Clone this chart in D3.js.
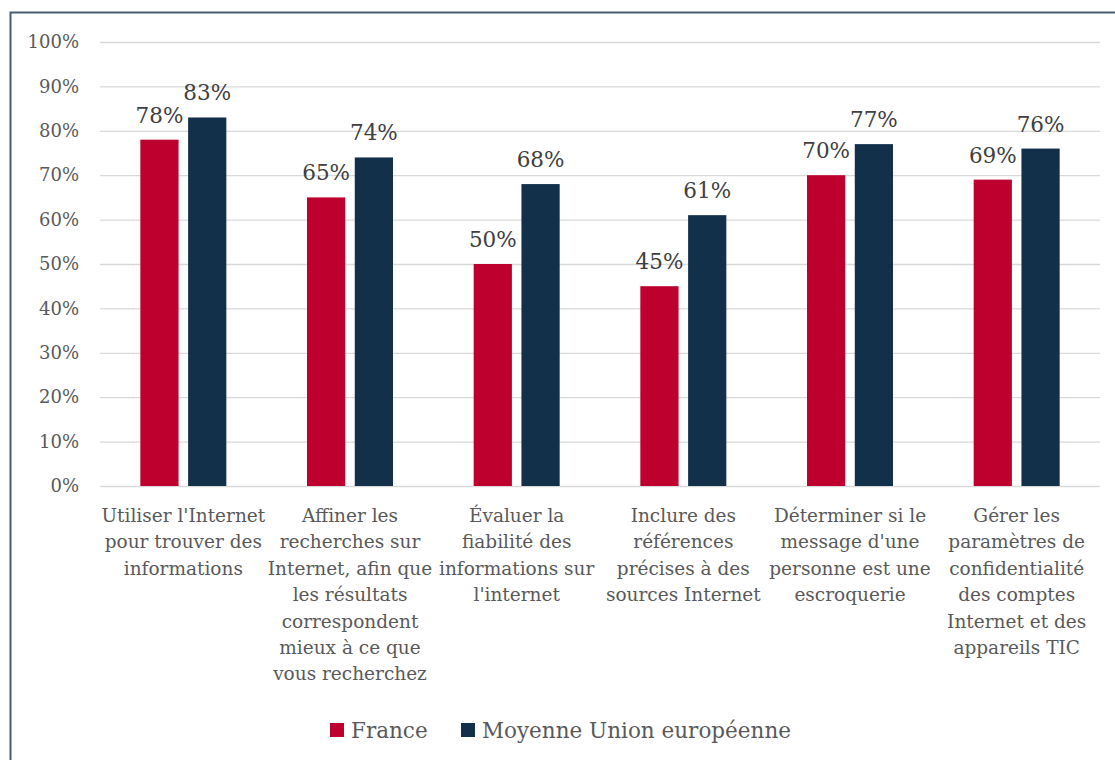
<!DOCTYPE html>
<html>
<head>
<meta charset="utf-8">
<script src="https://cdn.jsdelivr.net/npm/d3@7"></script>
<style>
  html, body { margin: 0; padding: 0; background: #fff; }
  svg { display: block; }
</style>
</head>
<body>
<svg id="chart" width="1115" height="760"></svg>
<script>
// Compétences numériques : France vs moyenne UE
const categories = [
  ["Utiliser l'Internet", "pour trouver des", "informations"],
  ["Affiner les", "recherches sur", "Internet, afin que", "les résultats", "correspondent", "mieux à ce que", "vous recherchez"],
  ["Évaluer la", "fiabilité des", "informations sur", "l'internet"],
  ["Inclure des", "références", "précises à des", "sources Internet"],
  ["Déterminer si le", "message d'une", "personne est une", "escroquerie"],
  ["Gérer les", "paramètres de", "confidentialité", "des comptes", "Internet et des", "appareils TIC"]
];
const seriesNames = ["France", "Moyenne Union européenne"];
const franceValues = [78, 65, 50, 45, 70, 69];
const euValues = [83, 74, 68, 61, 77, 76];
const yTicks = [0, 10, 20, 30, 40, 50, 60, 70, 80, 90, 100];
const colors = ["#bd002d", "#13304b"];

const FONT = "'DejaVu Serif', serif";
const svg = d3.select("#chart");

// frame
svg.append("path")
  .attr("d", "M10.5,760 V12.5 H1115")
  .attr("fill", "none")
  .attr("stroke", "#44606f")
  .attr("stroke-width", 2);

const plot = { left: 100, right: 1100, top: 42, bottom: 486 };

const x = d3.scaleBand()
  .domain(d3.range(categories.length))
  .range([plot.left, plot.right]);

const xInner = d3.scaleBand()
  .domain([0, 1])
  .range([-43, 43])
  .paddingInner(0.2);

const y = d3.scaleLinear().domain([0, 100]).range([plot.bottom, plot.top]);

// gridlines + tick labels
const yAxis = d3.axisLeft(y)
  .tickValues(yTicks)
  .tickSize(-(plot.right - plot.left))
  .tickPadding(21)
  .tickFormat(d => d + "%");

const gy = svg.append("g")
  .attr("transform", `translate(${plot.left},0)`)
  .call(yAxis);
gy.select(".domain").remove();
gy.selectAll(".tick line").attr("stroke", "#d9d9d9").attr("stroke-width", 1.3);
gy.selectAll(".tick text")
  .attr("fill", "#595959")
  .style("font-family", FONT)
  .style("font-size", "18px");

// bars
const series = [franceValues, euValues];
const groups = svg.append("g").selectAll("g")
  .data(categories)
  .join("g")
  .attr("transform", (d, i) => `translate(${x(i) + x.bandwidth() / 2},0)`);

groups.each(function (cat, i) {
  const g = d3.select(this);
  series.forEach((vals, s) => {
    const v = vals[i];
    g.append("rect")
      .attr("x", xInner(s))
      .attr("width", xInner.bandwidth())
      .attr("y", y(v))
      .attr("height", y(0) - y(v))
      .attr("fill", colors[s]);
    g.append("text")
      .attr("x", xInner(s) + xInner.bandwidth() / 2)
      .attr("y", y(v) - 17)
      .attr("text-anchor", "middle")
      .attr("fill", "#404040")
      .style("font-family", FONT)
      .style("font-size", "21.5px")
      .text(v + "%");
  });
  const t = g.append("text")
    .attr("text-anchor", "middle")
    .attr("fill", "#595959")
    .style("font-family", FONT)
    .style("font-size", "18.5px");
  cat.forEach((line, k) => {
    t.append("tspan")
      .attr("x", 0)
      .attr("y", 522 + k * 26.4)
      .text(line);
  });
});

// legend
const legend = svg.append("g").attr("transform", "translate(330,723)");
const legendX = [0, 131];
seriesNames.forEach((name, s) => {
  const lg = legend.append("g").attr("transform", `translate(${legendX[s]},0)`);
  lg.append("rect").attr("width", 14).attr("height", 14).attr("fill", colors[s]);
  lg.append("text")
    .attr("x", 21)
    .attr("y", 15)
    .attr("fill", "#595959")
    .style("font-family", FONT)
    .style("font-size", "21.5px")
    .text(name);
});
</script>
</body>
</html>
